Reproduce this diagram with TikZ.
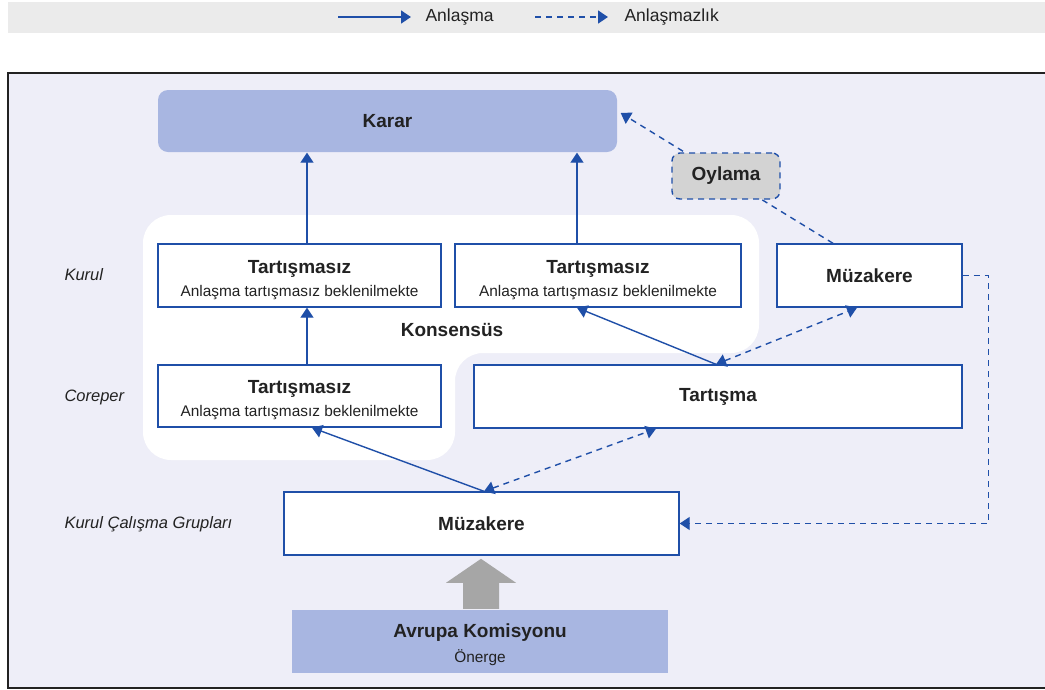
\documentclass[tikz,border=0pt]{standalone}
\usepackage{fontspec}
\setmainfont{Liberation Sans}
\usetikzlibrary{arrows.meta,calc}

\definecolor{eublue}{HTML}{1F4FA8}
\definecolor{bgpanel}{HTML}{EEEEF8}
\definecolor{legendbg}{HTML}{EBEBEB}
\definecolor{kararfill}{HTML}{A8B6E1}
\definecolor{voteFill}{HTML}{D3D3D3}
\definecolor{proparrow}{HTML}{A6A6A6}
\definecolor{ink}{HTML}{222222}

\tikzset{
  tip/.tip={Triangle[length=10pt,width=13pt]},
  box/.style={draw=eublue, line width=1.4pt, fill=white, text=ink, align=center,
    inner sep=0pt},
  title/.style={font=\bfseries\fontsize{19}{23}\selectfont},
  agree/.style={draw=eublue, line width=1.4pt, -tip},
  disagree/.style={draw=eublue, line width=1.4pt, dash pattern=on 6pt off 5pt, -tip},
  both/.style={disagree, tip-tip},
  level/.style={anchor=west, text=ink, font=\itshape\fontsize{16.5}{20}\selectfont},
  legendtext/.style={anchor=west, text=ink, font=\fontsize{17.5}{21}\selectfont},
}

% two-line box text: bold heading over a smaller note
\newcommand{\twoline}[2]{\rule{0pt}{22pt}{\bfseries\fontsize{19}{23}\selectfont #1}\\[7pt]%
  {\fontsize{15.4}{19}\selectfont #2}}

\begin{document}
\begin{tikzpicture}[x=1pt,y=-1pt]
  \useasboundingbox (0,0) rectangle (1045,689);

  % legend strip
  \fill[legendbg] (8,2) rectangle (1046,33);
  \coordinate (la1) at (338,17);
  \coordinate (la2) at (411,17);
  \coordinate (lb1) at (535,17);
  \coordinate (lb2) at (608,17);
  \draw[agree] (la1) -- (la2);
  \draw[disagree] (lb1) -- (lb2);
  \node[legendtext] (lga) at (422,17) {Anlaşma};
  \node[legendtext] (lgb) at (621,17) {Anlaşmazlık};

  % framed panel
  \draw[fill=bgpanel, draw=ink, line width=2pt] (8,73) rectangle (1048,688);

  % consensus area
  \fill[white, rounded corners=28pt]
    (143,215) -- (759,215) -- (759,353) -- (455,353) -- (455,460) -- (143,460) -- cycle;
  \node[text=ink, font=\bfseries\fontsize{19}{23}\selectfont] (kons) at (452,330) {Konsensüs};

  % level labels
  \node[level] (lkurul) at (61,275) {Kurul};
  \node[level] (lcoreper) at (61,397) {Coreper};
  \node[level] (lgroups) at (61,524) {Kurul Çalışma Grupları};

  % boxes
  \node[box, draw=none, fill=kararfill, rounded corners=10pt,
        minimum width=459pt, minimum height=62pt, title] (karar) at (387.5,121) {Karar};
  \node[box, minimum width=283pt, minimum height=63pt] (t1) at (299.5,275.5)
    {\twoline{Tartışmasız}{Anlaşma tartışmasız beklenilmekte}};
  \node[box, minimum width=286pt, minimum height=63pt] (t2) at (598,275.5)
    {\twoline{Tartışmasız}{Anlaşma tartışmasız beklenilmekte}};
  \node[box, minimum width=185pt, minimum height=63pt, title] (muzR) at (869.5,275.5) {Müzakere};
  \node[box, minimum width=283pt, minimum height=62pt] (t3) at (299.5,396)
    {\twoline{Tartışmasız}{Anlaşma tartışmasız beklenilmekte}};
  \node[box, minimum width=488pt, minimum height=63pt, title] (tart) at (718,396.5) {Tartışma};
  \node[box, minimum width=395pt, minimum height=63pt, title] (muzB) at (481.5,523.5) {Müzakere};
  \node[box, draw=none, fill=kararfill, minimum width=376pt, minimum height=63pt] (ak) at (480,641)
    {\twoline{Avrupa Komisyonu}{Önerge}};

  % proposal arrow from the Commission
  \fill[proparrow] ([xshift=-17pt]ak.north) -- ++(0,-26) -- ++(-17,0) -- ++(35,-24)
    -- ++(35,24) -- ++(-17,0) -- ++(0,26) -- cycle;

  % agreement flows
  \draw[agree] ([xshift=7.5pt]t1.north) -- ([xshift=7.5pt]t1.north |- karar.south);
  \draw[agree] ([xshift=-21pt]t2.north) -- ([xshift=-21pt]t2.north |- karar.south);
  \draw[agree] ([xshift=7.5pt]t3.north) -- ([xshift=7.5pt]t3.north |- t1.south);
  \draw[agree] ([xshift=2.5pt]muzB.north) -- ([xshift=12.5pt]t3.south);
  \draw[agree] ([xshift=-2pt]tart.north) -- ([xshift=-21pt]t2.south);

  % disagreement flows
  \draw[both] ([xshift=2.5pt]muzB.north) -- ([xshift=-62pt]tart.south);
  \draw[both] ([xshift=-2pt]tart.north) -- ([xshift=-12.5pt]muzR.south);
  \draw[disagree] ([xshift=-36.5pt]muzR.north) -- ([xshift=3pt,yshift=8pt]karar.east);
  \draw[disagree] (muzR.east) -- ++(25.5,0) |- (muzB.east);

  % vote box on the disagreement path
  \node[draw=eublue, line width=1.4pt, dash pattern=on 6pt off 5pt, fill=voteFill,
        rounded corners=8pt, minimum width=108pt, minimum height=46pt, text=ink, title]
        (oyl) at (726,176) {Oylama};
\end{tikzpicture}
\end{document}
